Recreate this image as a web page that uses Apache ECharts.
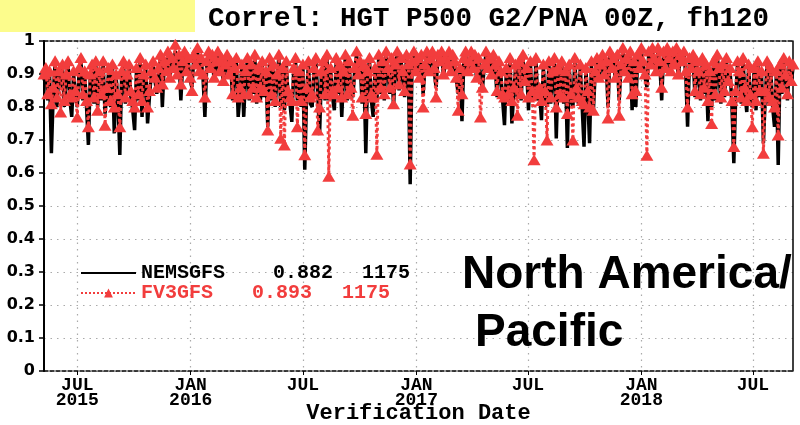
<!DOCTYPE html>
<html>
<head>
<meta charset="utf-8">
<script src="https://cdn.jsdelivr.net/npm/echarts@6/dist/echarts.min.js"></script>
<style>
html,body{margin:0;padding:0;background:#fff;}
#chart{width:800px;height:425px;}
</style>
</head>
<body>
<div id="chart"></div>
<script>
// ---- data (one value every 3 days) ----
const startDate = Date.UTC(2015, 4, 8);   // first verification date
const stepDays = 3;
const axisMin = Date.UTC(2015, 4, 8);
const axisMax = Date.UTC(2018, 8, 4);

const nemsgfs = [
  0.88,0.91,0.82,0.90,0.66,0.84,0.93,0.80,0.90,0.86,
  0.92,0.80,0.89,0.93,0.82,0.77,0.90,0.83,0.80,0.91,
  0.94,0.82,0.90,0.80,0.685,0.89,0.92,0.81,0.93,0.80,
  0.90,0.82,0.93,0.78,0.84,0.91,0.80,0.92,0.72,0.89,
  0.82,0.655,0.90,0.93,0.81,0.89,0.92,0.83,0.79,0.73,
  0.91,0.82,0.94,0.77,0.89,0.92,0.75,0.83,0.90,0.93,
  0.88,0.84,0.91,0.95,0.80,0.93,0.90,0.96,0.88,0.94,
  0.91,0.97,0.89,0.95,0.82,0.93,0.96,0.90,0.94,0.88,
  0.86,0.95,0.92,0.97,0.90,0.94,0.89,0.77,0.93,0.96,
  0.91,0.95,0.88,0.93,0.96,0.90,0.94,0.87,0.92,0.95,
  0.89,0.93,0.82,0.91,0.94,0.77,0.84,0.92,0.77,0.90,
  0.94,0.82,0.92,0.84,0.95,0.81,0.91,0.82,0.93,0.83,
  0.90,0.74,0.94,0.82,0.92,0.80,0.89,0.95,0.80,0.91,
  0.79,0.93,0.83,0.81,0.755,0.91,0.94,0.82,0.90,0.80,
  0.92,0.61,0.84,0.93,0.81,0.80,0.91,0.94,0.84,0.715,
  0.90,0.93,0.82,0.95,0.82,0.91,0.83,0.79,0.94,0.84,
  0.92,0.77,0.90,0.95,0.82,0.93,0.84,0.83,0.91,0.96,
  0.89,0.93,0.81,0.92,0.66,0.90,0.94,0.82,0.77,0.91,
  0.82,0.95,0.84,0.93,0.82,0.96,0.91,0.84,0.94,0.80,
  0.92,0.96,0.85,0.94,0.90,0.83,0.95,0.92,0.566,0.93,
  0.96,0.90,0.94,0.88,0.95,0.84,0.92,0.97,0.90,0.94,
  0.96,0.91,0.86,0.95,0.93,0.97,0.89,0.94,0.92,0.96,
  0.90,0.95,0.93,0.88,0.84,0.91,0.757,0.94,0.96,0.90,
  0.93,0.97,0.91,0.95,0.88,0.94,0.90,0.85,0.92,0.96,
  0.91,0.94,0.89,0.95,0.92,0.83,0.93,0.90,0.82,0.745,
  0.91,0.82,0.94,0.75,0.84,0.92,0.83,0.93,0.82,0.95,
  0.87,0.91,0.79,0.93,0.83,0.82,0.94,0.82,0.84,0.76,
  0.92,0.83,0.80,0.93,0.81,0.90,0.94,0.705,0.91,0.82,
  0.93,0.81,0.90,0.676,0.92,0.82,0.80,0.94,0.84,0.81,
  0.92,0.80,0.68,0.91,0.83,0.69,0.93,0.78,0.90,0.94,
  0.88,0.92,0.95,0.89,0.93,0.80,0.96,0.91,0.94,0.88,
  0.95,0.82,0.92,0.97,0.90,0.94,0.88,0.96,0.79,0.93,
  0.80,0.95,0.91,0.97,0.93,0.89,0.86,0.96,0.92,0.98,
  0.94,0.90,0.97,0.93,0.82,0.96,0.91,0.98,0.94,0.90,
  0.96,0.92,0.97,0.89,0.95,0.93,0.96,0.90,0.74,0.94,
  0.91,0.95,0.83,0.93,0.90,0.82,0.94,0.84,0.92,0.757,
  0.90,0.80,0.93,0.82,0.95,0.91,0.81,0.92,0.83,0.94,
  0.87,0.91,0.80,0.63,0.83,0.93,0.90,0.81,0.94,0.84,
  0.785,0.92,0.82,0.80,0.91,0.79,0.93,0.83,0.90,0.69,
  0.83,0.93,0.81,0.91,0.80,0.74,0.90,0.624,0.92,0.84,
  0.94,0.89,0.82,0.93,0.87,0.92
];

const fv3gfs = [
  0.90,0.92,0.84,0.91,0.81,0.86,0.94,0.83,0.91,0.785,
  0.93,0.82,0.90,0.94,0.84,0.83,0.91,0.85,0.77,0.92,
  0.95,0.84,0.91,0.82,0.74,0.90,0.93,0.83,0.94,0.79,
  0.91,0.84,0.94,0.745,0.86,0.92,0.82,0.93,0.80,0.90,
  0.84,0.74,0.91,0.94,0.83,0.90,0.93,0.85,0.82,0.80,
  0.92,0.84,0.95,0.82,0.90,0.93,0.80,0.85,0.91,0.94,
  0.89,0.86,0.92,0.96,0.87,0.94,0.91,0.97,0.89,0.95,
  0.92,0.99,0.90,0.96,0.87,0.94,0.97,0.91,0.95,0.89,
  0.85,0.96,0.93,0.98,0.91,0.95,0.90,0.83,0.94,0.97,
  0.92,0.96,0.89,0.94,0.97,0.91,0.95,0.88,0.93,0.96,
  0.90,0.94,0.84,0.92,0.95,0.83,0.86,0.93,0.84,0.91,
  0.95,0.84,0.93,0.86,0.96,0.83,0.92,0.86,0.94,0.85,
  0.91,0.73,0.95,0.84,0.93,0.82,0.90,0.96,0.705,0.92,
  0.685,0.94,0.85,0.83,0.82,0.92,0.95,0.74,0.91,0.82,
  0.93,0.655,0.86,0.94,0.83,0.84,0.92,0.95,0.73,0.80,
  0.91,0.94,0.84,0.96,0.59,0.92,0.85,0.84,0.95,0.86,
  0.93,0.83,0.91,0.96,0.84,0.94,0.86,0.775,0.92,0.97,
  0.90,0.94,0.83,0.93,0.78,0.91,0.95,0.84,0.83,0.92,
  0.657,0.96,0.86,0.94,0.84,0.97,0.92,0.86,0.95,0.81,
  0.93,0.97,0.87,0.95,0.91,0.85,0.96,0.93,0.627,0.94,
  0.97,0.91,0.95,0.89,0.96,0.80,0.93,0.97,0.91,0.95,
  0.97,0.92,0.83,0.96,0.94,0.97,0.90,0.95,0.93,0.97,
  0.91,0.96,0.94,0.89,0.79,0.92,0.84,0.95,0.97,0.91,
  0.94,0.97,0.92,0.96,0.89,0.95,0.77,0.86,0.93,0.97,
  0.92,0.95,0.90,0.96,0.93,0.85,0.94,0.91,0.84,0.83,
  0.92,0.84,0.95,0.82,0.86,0.93,0.775,0.94,0.84,0.96,
  0.88,0.92,0.83,0.94,0.85,0.64,0.95,0.84,0.86,0.82,
  0.93,0.85,0.70,0.94,0.83,0.91,0.95,0.80,0.92,0.84,
  0.94,0.83,0.91,0.78,0.93,0.84,0.70,0.95,0.86,0.83,
  0.93,0.82,0.81,0.92,0.85,0.80,0.94,0.79,0.91,0.95,
  0.89,0.93,0.96,0.90,0.94,0.767,0.97,0.92,0.95,0.89,
  0.96,0.775,0.93,0.98,0.91,0.95,0.89,0.97,0.84,0.94,
  0.85,0.96,0.92,0.98,0.94,0.90,0.654,0.97,0.93,0.98,
  0.95,0.91,0.98,0.94,0.86,0.97,0.92,0.98,0.95,0.91,
  0.97,0.93,0.98,0.90,0.96,0.94,0.97,0.91,0.80,0.95,
  0.92,0.96,0.85,0.94,0.91,0.84,0.95,0.86,0.93,0.82,
  0.91,0.75,0.94,0.84,0.96,0.92,0.83,0.93,0.85,0.95,
  0.88,0.92,0.82,0.68,0.85,0.94,0.91,0.83,0.95,0.86,
  0.82,0.93,0.84,0.74,0.92,0.82,0.94,0.85,0.91,0.66,
  0.85,0.94,0.83,0.92,0.82,0.80,0.91,0.715,0.93,0.86,
  0.95,0.90,0.84,0.94,0.88,0.93
];

const seriesNames = ['NEMSGFS', 'FV3GFS'];
const seriesMeans = ['0.882', '0.893'];
const seriesCounts = ['1175', '1175'];

const tickDates = [
  Date.UTC(2015,6,1), Date.UTC(2016,0,1), Date.UTC(2016,6,1),
  Date.UTC(2017,0,1), Date.UTC(2017,6,1), Date.UTC(2018,0,1), Date.UTC(2018,6,1)
];
const tickLabels = ['JUL\n2015','JAN\n2016','JUL','JAN\n2017','JUL','JAN\n2018','JUL'];
const yTicks = [0,0.1,0.2,0.3,0.4,0.5,0.6,0.7,0.8,0.9,1];

// ---- build ----
const DAY = 86400000;
const dates = nemsgfs.map((_, i) => startDate + i * stepDays * DAY);
const blackData = nemsgfs.map((v, i) => [dates[i], v]);
const redData = fv3gfs.map((v, i) => [dates[i], v]);

const RED = '#f23d3d';
const MONO = '"Liberation Mono", "Courier New", monospace';
const legendFont = {fontFamily: MONO, fontWeight: 'bold', fontSize: 20, lineHeight: 14};

const chart = echarts.init(document.getElementById('chart'), null, {renderer: 'canvas'});
chart.setOption({
  animation: false,
  backgroundColor: '#fff',
  title: {
    text: 'Correl: HGT P500 G2/PNA 00Z, fh120',
    left: 203, top: 0,
    textStyle: {fontFamily: MONO, fontWeight: 'bold', fontSize: 27.5, color: '#000'}
  },
  graphic: [
    {type: 'rect', left: 0, top: 0, z: -1, shape: {width: 195, height: 32}, style: {fill: '#fcfc8c'}},
    {type: 'text', left: 462, top: 252, z: 100,
      style: {text: 'North America/', font: 'bold 46px "Liberation Sans", Arial, sans-serif', fill: '#000'}},
    {type: 'text', left: 475, top: 310, z: 100,
      style: {text: 'Pacific', font: 'bold 46px "Liberation Sans", Arial, sans-serif', fill: '#000'}}
  ],
  legend: {
    left: 75, top: 258, orient: 'vertical',
    itemWidth: 55, itemHeight: 11, itemGap: 0,
    data: [{name: seriesNames[0], itemStyle: {opacity: 0}}, {name: seriesNames[1]}],
    formatter: function (name) {
      const k = seriesNames.indexOf(name);
      if (k === 0) return '{n0|' + name + '}{v0|' + seriesMeans[0] + '}{c0|' + seriesCounts[0] + '}';
      return '{n1|' + name + '}{v1|' + seriesMeans[1] + '}{c1|' + seriesCounts[1] + '}';
    },
    textStyle: Object.assign({
      rich: {
        n0: Object.assign({width: 132, color: '#000'}, legendFont),
        v0: Object.assign({width: 89, color: '#000'}, legendFont),
        c0: Object.assign({color: '#000'}, legendFont),
        n1: Object.assign({width: 111, color: RED}, legendFont),
        v1: Object.assign({width: 90, color: RED}, legendFont),
        c1: Object.assign({color: RED}, legendFont)
      }
    }, legendFont)
  },
  grid: {left: 44, right: 7, top: 41, bottom: 54, containLabel: false, outerBoundsMode: 'none'},
  xAxis: [{
    type: 'value', min: axisMin, max: axisMax, position: 'bottom',
    axisLine: {show: true, onZero: false, lineStyle: {color: '#000', width: 1.5, type: [4, 2]}},
    axisTick: {show: true, length: 4, lineStyle: {color: '#000', width: 1}, customValues: tickDates},
    axisLabel: {
      customValues: tickDates, margin: 7,
      fontFamily: MONO, fontWeight: 'bold', fontSize: 18, lineHeight: 15, color: '#000',
      formatter: function (v) { const k = tickDates.indexOf(v); return k >= 0 ? tickLabels[k] : ''; }
    },
    splitLine: {show: true, lineStyle: {color: '#aaa', width: 1.2, type: [1.5, 5]}},
    name: 'Verification Date', nameLocation: 'middle', nameGap: 31, nameMoveOverlap: false,
    nameTextStyle: {fontFamily: MONO, fontWeight: 'bold', fontSize: 22, color: '#000'}
  }, {
    type: 'value', min: axisMin, max: axisMax, position: 'top',
    axisLine: {show: true, onZero: false, lineStyle: {color: '#000', width: 1.5, type: [4, 2]}},
    axisTick: {show: false}, axisLabel: {show: false}, splitLine: {show: false}
  }],
  yAxis: [{
    type: 'value', min: 0, max: 1, interval: 0.1, position: 'left',
    axisLine: {show: true, onZero: false, lineStyle: {color: '#000', width: 2}},
    axisTick: {show: true, inside: false, length: 5, lineStyle: {color: '#000', width: 1.5}},
    axisLabel: {
      margin: 9, color: '#000', fontFamily: '"DejaVu Sans", sans-serif', fontWeight: 'bold', fontSize: 16,
      formatter: function (v) { const k = yTicks.findIndex(t => Math.abs(t - v) < 1e-6); return k >= 0 ? String(yTicks[k]) : ''; }
    },
    splitLine: {show: true, lineStyle: {color: '#aaa', width: 1.2, type: [1.5, 5]}}
  }, {
    type: 'value', min: 0, max: 1, position: 'right',
    axisLine: {show: true, onZero: false, lineStyle: {color: '#000', width: 1.5}},
    axisTick: {show: false}, axisLabel: {show: false}, splitLine: {show: false}
  }],
  series: [{
    name: seriesNames[0], type: 'line', data: blackData,
    symbol: 'none', showSymbol: false,
    lineStyle: {color: '#000', width: 3.5}, itemStyle: {color: '#000'},
    z: 2
  }, {
    name: seriesNames[1], type: 'line', data: redData,
    symbol: 'triangle', symbolSize: [13, 11], showSymbol: true,
    lineStyle: {color: RED, width: 3, type: 'dotted'},
    itemStyle: {color: RED, borderWidth: 0},
    z: 3
  }]
});
</script>
</body>
</html>
